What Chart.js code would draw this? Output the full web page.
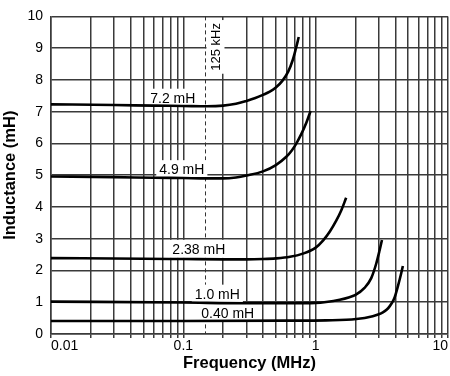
<!DOCTYPE html>
<html>
<head>
<meta charset="utf-8">
<script src="https://cdn.jsdelivr.net/npm/chart.js@4/dist/chart.umd.min.js"></script>
<style>
  html, body { margin: 0; padding: 0; background: #fff; }
</style>
</head>
<body>
<canvas id="chart" width="450" height="376"></canvas>
<script>
// frequency grid (MHz), one line per 1..9 x decade
const xTicks = [
  0.01, 0.02, 0.03, 0.04, 0.05, 0.06, 0.07, 0.08, 0.09,
  0.1, 0.2, 0.3, 0.4, 0.5, 0.6, 0.7, 0.8, 0.9,
  1, 2, 3, 4, 5, 6, 7, 8, 9, 10
];
const xLabeled = [0.01, 0.1, 1, 10];

// inductance curves, frequency in MHz / inductance in mH
const f72 = [0.01, 0.03, 0.06, 0.1, 0.15, 0.2, 0.25, 0.3, 0.35, 0.4, 0.45, 0.5, 0.56, 0.62, 0.67, 0.705, 0.745];
const l72 = [7.23, 7.21, 7.19, 7.18, 7.17, 7.19, 7.25, 7.34, 7.43, 7.53, 7.63, 7.76, 7.97, 8.26, 8.62, 8.95, 9.35];

const f49 = [0.01, 0.03, 0.06, 0.1, 0.15, 0.2, 0.25, 0.3, 0.4, 0.5, 0.6, 0.66, 0.71, 0.78, 0.85, 0.915];
const l49 = [4.96, 4.94, 4.92, 4.91, 4.9, 4.9, 4.93, 4.99, 5.12, 5.32, 5.58, 5.78, 5.98, 6.3, 6.65, 7.02];

const f238 = [0.01, 0.05, 0.1, 0.2, 0.3, 0.4, 0.5, 0.64, 0.8, 1.0, 1.14, 1.28, 1.43, 1.56, 1.7];
const l238 = [2.39, 2.37, 2.36, 2.35, 2.35, 2.36, 2.38, 2.43, 2.53, 2.72, 2.95, 3.23, 3.57, 3.89, 4.29];

const f10 = [0.01, 0.1, 0.3, 0.64, 1.0, 1.2, 1.52, 1.8, 2.0, 2.34, 2.63, 2.87, 3.04, 3.17];
const l10 = [1.02, 0.99, 0.97, 0.97, 0.98, 1.01, 1.08, 1.16, 1.23, 1.45, 1.76, 2.22, 2.63, 2.96];

const f040 = [0.01, 0.1, 0.6, 1.2, 2.03, 2.7, 3.0, 3.22, 3.45, 3.62, 3.8, 3.95, 4.18, 4.44, 4.56];
const l040 = [0.41, 0.41, 0.42, 0.43, 0.47, 0.56, 0.62, 0.68, 0.77, 0.87, 1.0, 1.15, 1.5, 1.93, 2.14];

const curveNames = ['7.2 mH', '4.9 mH', '2.38 mH', '1.0 mH', '0.40 mH'];
const curveFreqs = [f72, f49, f238, f10, f040];
const curveInds = [l72, l49, l238, l10, l040];
// where each curve name sits (MHz, mH)
const nameFreq = [0.0833, 0.0974, 0.1309, 0.1806, 0.2167];
const nameInd = [7.44, 5.19, 2.68, 1.27, 0.67];

const markerText = '125 kHz';
const markerFreq = 0.147;
const markerInd = 9.04;

const family = 'Helvetica, Arial, "Liberation Sans", sans-serif';
const gridColor = '#3a3a3a';

const labelsPlugin = {
  id: 'labels',
  beforeDatasetsDraw(chart) {
    const { ctx, chartArea, scales } = chart;
    const x = scales.x, y = scales.y;
    ctx.save();

    // dashed 125 kHz line
    const mx = Math.round(x.getPixelForValue(markerFreq)) + 0.5;
    ctx.strokeStyle = '#333';
    ctx.lineWidth = 1;
    ctx.setLineDash([4, 3]);
    ctx.beginPath();
    ctx.moveTo(mx, chartArea.top);
    ctx.lineTo(mx, chartArea.bottom);
    ctx.stroke();
    ctx.setLineDash([]);

    ctx.textAlign = 'center';
    ctx.textBaseline = 'middle';

    // curve names on white boxes
    ctx.font = '14px ' + family;
    curveNames.forEach((t, i) => {
      const cx = x.getPixelForValue(nameFreq[i]);
      const cy = y.getPixelForValue(nameInd[i]);
      const w = ctx.measureText(t).width;
      ctx.fillStyle = '#fff';
      ctx.fillRect(cx - w / 2 - 3, cy - 9, w + 6, 18);
      ctx.fillStyle = '#000';
      ctx.fillText(t, cx, cy + 1);
    });

    // rotated marker text
    ctx.font = '13px ' + family;
    const tx = x.getPixelForValue(markerFreq) + 10;
    const ty = y.getPixelForValue(markerInd);
    const tw = ctx.measureText(markerText).width;
    ctx.translate(tx, ty);
    ctx.rotate(-Math.PI / 2);
    ctx.fillStyle = '#fff';
    ctx.fillRect(-tw / 2 - 3, -9, tw + 6, 18);
    ctx.fillStyle = '#000';
    ctx.fillText(markerText, 0, 1);
    ctx.restore();
  }
};

new Chart(document.getElementById('chart'), {
  type: 'line',
  data: {
    datasets: curveNames.map((name, i) => ({
      label: name,
      data: curveFreqs[i].map((f, j) => ({ x: f, y: curveInds[i][j] })),
      borderColor: '#000',
      borderWidth: 2.6,
      pointRadius: 0,
      fill: false,
      cubicInterpolationMode: 'monotone'
    }))
  },
  options: {
    responsive: false,
    animation: false,
    devicePixelRatio: 1,
    layout: { padding: { top: 2, right: 2, left: 0, bottom: 0 } },
    plugins: {
      legend: { display: false },
      tooltip: { enabled: false }
    },
    scales: {
      x: {
        type: 'logarithmic',
        min: 0.01,
        max: 10,
        afterBuildTicks: s => { s.ticks = xTicks.map(v => ({ value: v })); },
        afterFit: s => { s.height = 42; },
        grid: { color: gridColor, lineWidth: 1.5, tickLength: 4 },
        border: { color: gridColor, width: 1.5 },
        ticks: {
          autoSkip: false,
          maxRotation: 0,
          align: 'inner',
          padding: 0,
          color: '#000',
          font: { size: 14, family },
          callback: v => xLabeled.includes(v) ? String(v) : ''
        },
        title: {
          display: true,
          text: 'Frequency (MHz)',
          color: '#000',
          font: { size: 16.5, weight: 'bold', family },
          padding: { top: 0, bottom: 3 }
        }
      },
      y: {
        min: 0,
        max: 10,
        afterFit: s => { s.width = 51; },
        grid: { color: gridColor, lineWidth: 1.5, drawTicks: false },
        border: { color: gridColor, width: 1.5 },
        ticks: {
          stepSize: 1,
          padding: 8,
          color: '#000',
          font: { size: 14, family }
        },
        title: {
          display: true,
          text: 'Inductance (mH)',
          color: '#000',
          font: { size: 16.5, weight: 'bold', family },
          padding: { top: 1, bottom: 0 }
        }
      }
    }
  },
  plugins: [labelsPlugin]
});
</script>
</body>
</html>
